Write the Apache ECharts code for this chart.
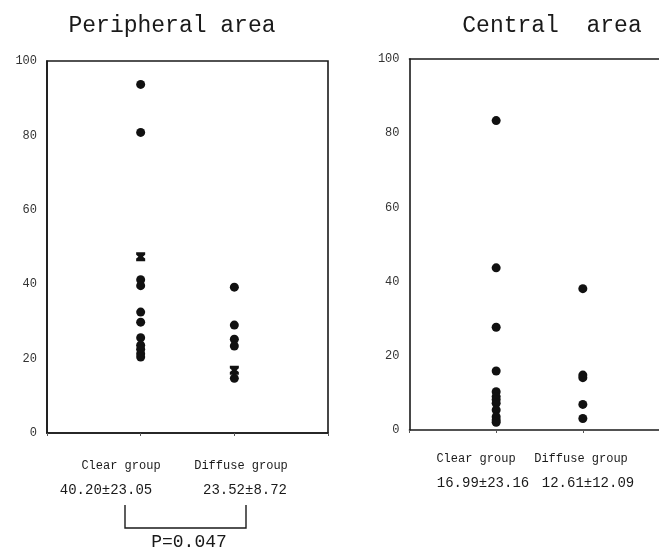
<!DOCTYPE html>
<html>
<head>
<meta charset="utf-8">
<script src="https://cdn.jsdelivr.net/npm/echarts@6/dist/echarts.min.js"></script>
<style>
  html, body { margin: 0; padding: 0; background: #fff; }
  #chart { width: 659px; height: 550px; }
</style>
</head>
<body>
<div id="chart"></div>
<script>
// tick labels of the y axes
const yTicks = [0, 20, 40, 60, 80, 100]

// group positions on the x axis (1 = Clear group, 2 = Diffuse group)
const groupPos = { clear: 1, diffuse: 2 }

// Peripheral area
const periClear = [93.7, 80.8, 41.2, 39.6, 32.5, 29.8, 25.6, 23.6, 22.5, 21.3, 20.4]
const periClearMarked = [47.4]
const periDiffuse = [39.2, 29.0, 25.2, 23.4, 14.7]
const periDiffuseMarked = [16.9]

// Central area
const centClear = [83.4, 43.7, 27.7, 15.9, 10.3, 9.0, 8.2, 7.2, 5.4, 3.6, 2.7, 2.1]
const centDiffuse = [38.1, 14.8, 14.1, 6.9, 3.1]

// group labels and summary text
const groupNames = ["Clear group", "Diffuse group"]
const periStats = ["40.20\u00b123.05", "23.52\u00b18.72"]
const centStats = ["16.99\u00b123.16", "12.61\u00b112.09"]
const pValue = "P=0.047"

const FONT = "'Liberation Mono', 'DejaVu Sans Mono', monospace"
const INK = "#1a1a1a"
// filled square with notched sides, the "marked" points
const notchMark = "path://M0,0L10,0L10,3L7.5,5L10,7L10,10L0,10L0,7L2.5,5L0,3Z"

const chart = echarts.init(document.getElementById("chart"), null, { renderer: "canvas" })

function toPoints(pos, values) {
  return values.map(v => [pos, v])
}

function xAxisFor(gridIndex, position) {
  const top = position === "top"
  return {
    gridIndex,
    type: "value",
    position: position || "bottom",
    min: 0,
    max: 3,
    interval: 1,
    axisLine: { show: true, onZero: false, lineStyle: { color: INK, width: 1.6 } },
    axisTick: { show: !top, length: 3, lineStyle: { color: "#555", width: 1 } },
    axisLabel: { show: false },
    splitLine: { show: false }
  }
}

function yAxisFor(gridIndex) {
  return {
    gridIndex,
    type: "value",
    min: yTicks[0],
    max: yTicks[yTicks.length - 1],
    interval: 20,
    axisLine: { show: true, lineStyle: { color: INK, width: 1.6 } },
    axisTick: { show: false },
    axisLabel: { fontFamily: FONT, fontSize: 12, color: "#333", margin: 10 },
    splitLine: { show: false }
  }
}

function dots(name, idx, data, symbol) {
  return {
    name,
    type: "scatter",
    xAxisIndex: idx,
    yAxisIndex: idx,
    data,
    symbol: symbol || "circle",
    symbolSize: 9,
    itemStyle: { color: "#111", opacity: 1 },
    emphasis: { disabled: true },
    silent: true
  }
}

function label(text, x, y, size) {
  return {
    type: "text",
    x,
    y,
    style: {
      text,
      fontFamily: FONT,
      fontSize: size,
      fill: INK,
      align: "center",
      verticalAlign: "middle"
    }
  }
}

const option = {
  backgroundColor: "#fff",
  animation: false,
  grid: [
    { left: 47, top: 61, width: 281, height: 372, show: true, borderColor: INK, borderWidth: 1.6, outerBoundsMode: "none" },
    // the right-hand panel runs past the edge of the picture
    { left: 409.5, top: 59, width: 260, height: 371, show: false, outerBoundsMode: "none" }
  ],
  xAxis: [xAxisFor(0), xAxisFor(1), xAxisFor(1, "top")],
  yAxis: [yAxisFor(0), yAxisFor(1)],
  series: [
    dots("Peripheral clear", 0, toPoints(groupPos.clear, periClear)),
    dots("Peripheral clear marked", 0, toPoints(groupPos.clear, periClearMarked), notchMark),
    dots("Peripheral diffuse", 0, toPoints(groupPos.diffuse, periDiffuse)),
    dots("Peripheral diffuse marked", 0, toPoints(groupPos.diffuse, periDiffuseMarked), notchMark),
    dots("Central clear", 1, toPoints(groupPos.clear, centClear)),
    dots("Central diffuse", 1, toPoints(groupPos.diffuse, centDiffuse))
  ],
  graphic: [
    label("Peripheral area", 172, 26, 23),
    label("Central  area", 552, 26, 23),

    label(groupNames[0], 121, 466, 12),
    label(groupNames[1], 241, 466, 12),
    label(periStats[0], 106, 490, 14),
    label(periStats[1], 245, 490, 14),

    // bracket between the two peripheral groups
    {
      type: "polyline",
      shape: { points: [[125, 505], [125, 528], [246, 528], [246, 505]] },
      style: { stroke: INK, lineWidth: 1.4, fill: null }
    },
    label(pValue, 189, 542, 18),

    label(groupNames[0], 476, 459, 12),
    label(groupNames[1], 581, 459, 12),
    label(centStats[0], 483, 483, 14),
    label(centStats[1], 588, 483, 14)
  ]
}

chart.setOption(option)
</script>
</body>
</html>
